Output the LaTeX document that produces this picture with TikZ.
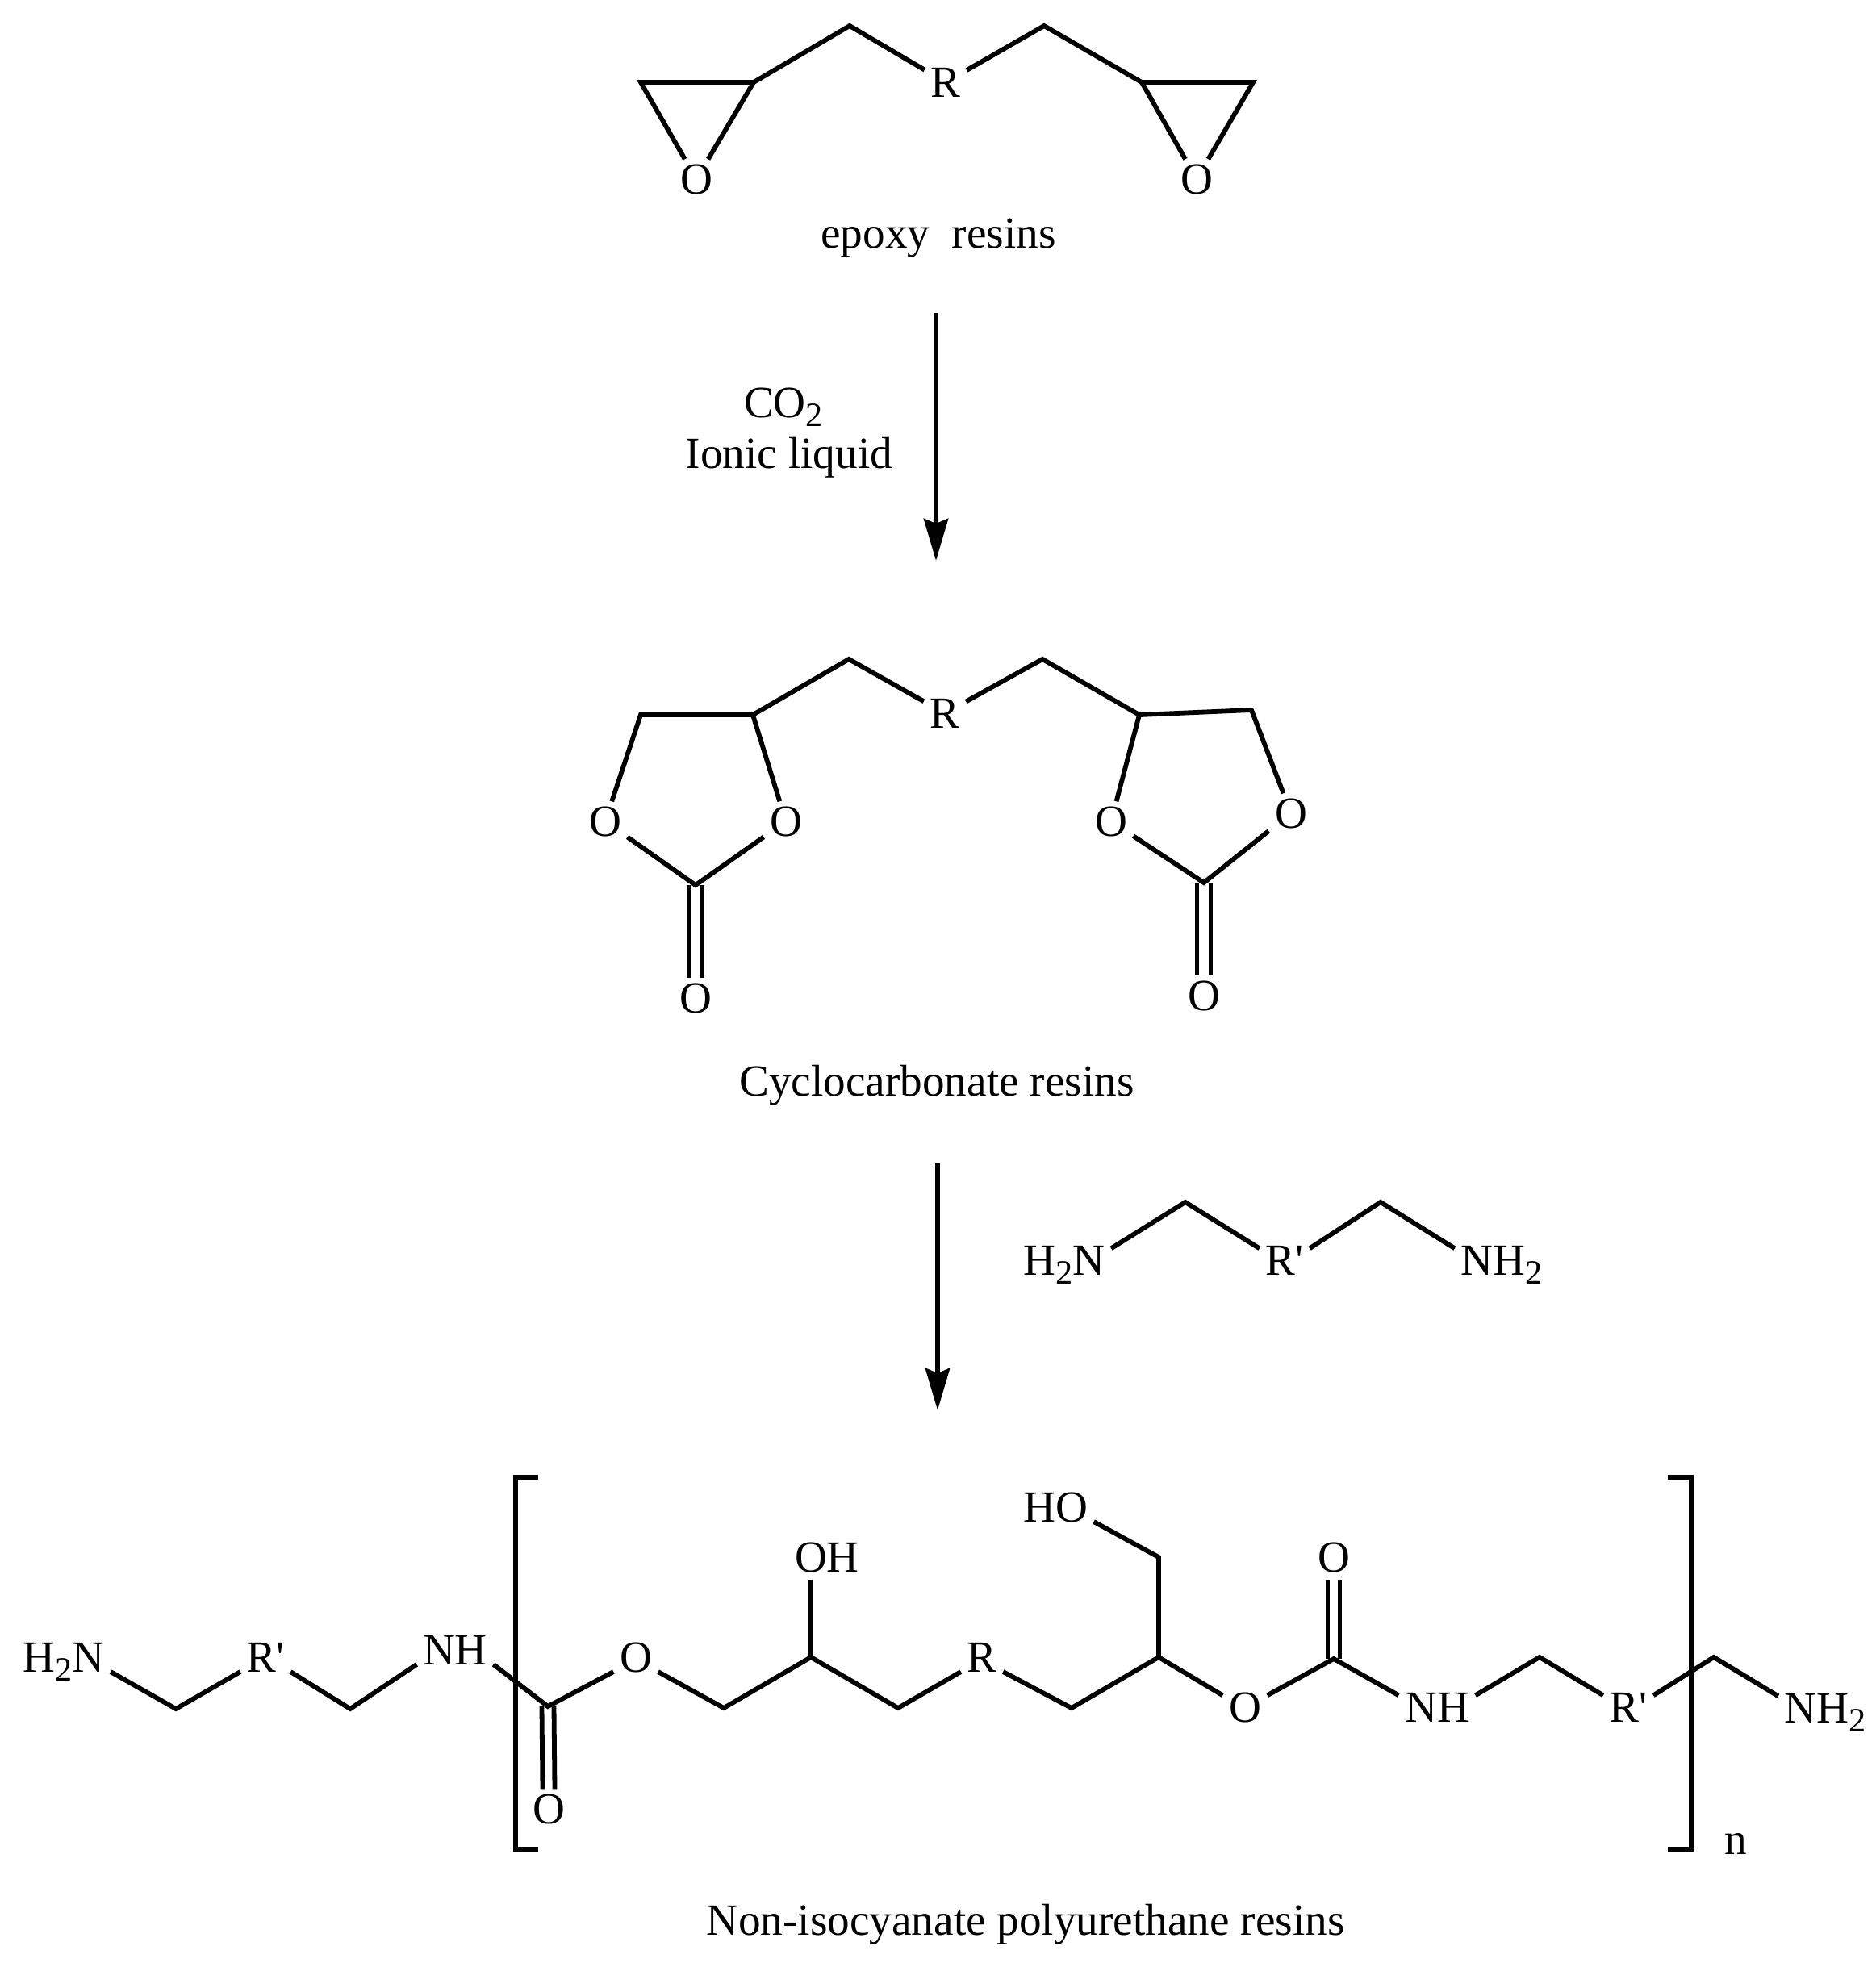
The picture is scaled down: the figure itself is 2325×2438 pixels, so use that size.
\documentclass[tikz,border=0pt]{standalone}
\usepackage{fontspec}
\setmainfont{Liberation Serif}
\usetikzlibrary{arrows.meta}
\newcommand{\lowtwo}{\raisebox{-0.45ex}{\fontsize{12}{12}\selectfont 2}}
\newcommand{\rprime}{R\textquotesingle}
\tikzset{
  bond/.style={line width=0.058cm, line join=miter},
  atom/.style={font=\fontsize{15.7}{18}\selectfont, anchor=base, text height=0.23cm, text depth=0pt, inner xsep=0.07cm, inner ysep=0.09cm},
  ringatom/.style={atom, text height=0.36cm, inner ysep=0.06cm},
  caption/.style={font=\fontsize{15.7}{18}\selectfont, anchor=base, inner sep=0pt},
  react/.style={line width=0.062cm, -{Stealth[length=0.52cm,width=0.3cm,inset=0.06cm]}}
}

\begin{document}
\begin{tikzpicture}[x=0.01cm,y=-0.01cm]
\useasboundingbox (0,0) rectangle (2325,2438);

% Epoxy resin
\begin{scope}
\coordinate (epA) at (794,102);
\coordinate (epB) at (934,102);
\coordinate (epC) at (1053,32);
\coordinate (epD) at (1294,32);
\coordinate (epE) at (1415,102);
\coordinate (epF) at (1553,102);
\node[ringatom] (epOa) at (863,240) {O};
\node[ringatom] (epR) at (1172,120) {R};
\node[ringatom] (epOb) at (1483,240) {O};
\draw[bond] (epB) -- (epA) -- (epOa);
\draw[bond] (epOa) -- (epB) -- (epC) -- (epR);
\draw[bond] (epR) -- (epD) -- (epE) -- (epF) -- (epOb);
\draw[bond] (epOb) -- (epE);
\node[caption] (epName) at (1163,307) {epoxy\ \ resins};
\end{scope}

% First step
\coordinate (arrAa) at (1160,388);
\coordinate (arrAb) at (1160,695);
\draw[react] (arrAa) -- (arrAb);
\node[caption] (co) at (971,517) {CO\lowtwo};
\node[caption] (ionic) at (978,580) {Ionic liquid};

% Cyclocarbonate resin
\begin{scope}
\coordinate (ccA) at (794,886);
\coordinate (ccB) at (933,886);
\coordinate (ccC) at (862,1097);
\coordinate (ccD) at (1052,817);
\coordinate (ccE) at (1292,817);
\coordinate (ccF) at (1412,886);
\coordinate (ccG) at (1551,880);
\coordinate (ccH) at (1492,1094);
\node[ringatom] (ccOa) at (750,1036) {O};
\node[ringatom] (ccOb) at (974,1036) {O};
\node[ringatom] (ccOc) at (862,1255) {O};
\node[ringatom] (ccR) at (1171,902) {R};
\node[ringatom] (ccOd) at (1377,1036) {O};
\node[ringatom] (ccOe) at (1600,1026) {O};
\node[ringatom] (ccOf) at (1492,1252) {O};
\draw[bond] (ccOa) -- (ccA) -- (ccB) -- (ccOb) -- (ccC) -- (ccOa);
\draw[bond] (ccB) -- (ccD) -- (ccR) -- (ccE) -- (ccF) -- (ccG) -- (ccOe) -- (ccH) -- (ccOd) -- (ccF);
\foreach \s in {-0.085,0.085} {
  \draw[bond] ([xshift=\s cm]ccC) -- ([xshift=\s cm]ccOc.north);
  \draw[bond] ([xshift=\s cm]ccH) -- ([xshift=\s cm]ccOf.north);
}
\node[caption] (ccName) at (1161,1358) {Cyclocarbonate resins};
\end{scope}

% Second step
\coordinate (arrBa) at (1162,1442);
\coordinate (arrBb) at (1162,1748);
\draw[react] (arrBa) -- (arrBb);

% Diamine
\begin{scope}
\coordinate (daA) at (1469,1490);
\coordinate (daB) at (1711,1490);
\node[atom] (daL) at (1319,1580) {H\lowtwo N};
\node[atom] (daR) at (1592,1580) {\rprime};
\node[atom] (daN) at (1861,1580) {NH\lowtwo};
\draw[bond] (daL.north east) -- (daA) -- (daR.north west);
\draw[bond] (daR.north east) -- (daB) -- (daN.north west);
\end{scope}

% Polyurethane
\begin{scope}
\coordinate (puA) at (218,2118);
\coordinate (puB) at (434,2118);
\coordinate (puC) at (679,2115);
\coordinate (puD) at (897,2117);
\coordinate (puE) at (1005,2054);
\coordinate (puF) at (1113,2117);
\coordinate (puG) at (1328,2117);
\coordinate (puH) at (1436,2054);
\coordinate (puI) at (1436,1930);
\coordinate (puJ) at (1653,2056);
\coordinate (puK) at (1908,2054);
\coordinate (puL) at (2124,2054);
\node[atom] (puNa) at (79,2072) {H\lowtwo N};
\node[atom] (puRa) at (329,2072) {\rprime};
\node[atom] (puNb) at (564,2063) {NH};
\node[ringatom] (puOa) at (680,2260) {O};
\node[atom] (puOb) at (788,2072) {O};
\node[atom] (puOH) at (1025,1948) {OH};
\node[atom] (puR) at (1217,2072) {R};
\node[atom] (puHO) at (1308,1886) {HO};
\node[atom] (puOc) at (1543,2134) {O};
\node[atom] (puOd) at (1653,1948) {O};
\node[atom] (puNc) at (1781,2134) {NH};
\node[atom] (puRb) at (2018,2134) {\rprime};
\node[atom] (puNd) at (2262,2135) {NH\lowtwo};
\draw[bond] (puNa.base east) -- (puA) -- (puRa.base west);
\draw[bond] (puRa.base east) -- (puB) -- (puNb.base west);
\draw[bond] (puNb.base east) -- (puC) -- (puOb.base west);
\draw[bond] (puOb.base east) -- (puD) -- (puE) -- (puF) -- (puR.base west);
\draw[bond] (puE) -- (puE |- puOH.south);
\draw[bond] (puR.base east) -- (puG) -- (puH) -- (puOc.north west);
\draw[bond] (puH) -- (puI) -- (puHO.base east);
\draw[bond] (puOc.north east) -- (puJ) -- (puNc.north west);
\draw[bond] (puNc.north east) -- (puK) -- (puRb.north west);
\draw[bond] (puRb.north east) -- (puL) -- (puNd.north west);
\foreach \s in {-0.075,0.075} {
  \draw[bond] ([xshift=\s cm]puC) -- ([xshift=\s cm]puOa.north);
  \draw[bond] ([xshift=\s cm]puJ) -- ([xshift=\s cm]puOd.south);
}
% brackets
\draw[bond] (667,1831) -- (639,1831) -- (639,2292) -- (667,2292);
\draw[bond] (2067,1831) -- (2096,1831) -- (2096,2292) -- (2067,2292);
\node[caption] (puIdx) at (2151,2298) {n};
\node[caption] (puName) at (1271,2398) {Non-isocyanate polyurethane resins};
\end{scope}
\end{tikzpicture}
\end{document}
